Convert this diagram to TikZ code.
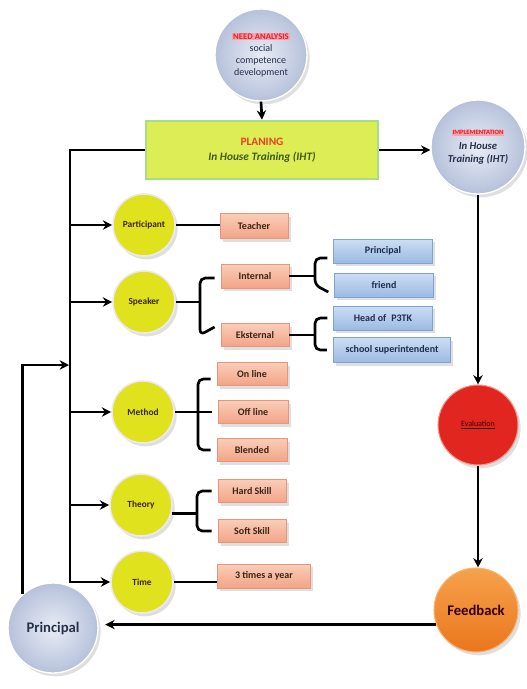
\documentclass[tikz,border=0pt]{standalone}
\usepackage{fontspec}
\setmainfont{Carlito}
\usetikzlibrary{arrows.meta,shadows,calc}
\definecolor{ycol}{HTML}{E0E21E}
\definecolor{ringc}{HTML}{ECE8F4}
\definecolor{gin}{HTML}{E8ECF6}
\definecolor{gout}{HTML}{B6C1DA}
\definecolor{sTop}{HTML}{FACDB8}
\definecolor{sBot}{HTML}{F2A487}
\definecolor{sEdge}{HTML}{E8957A}
\definecolor{sTxt}{HTML}{3B2418}
\definecolor{bTop}{HTML}{CCDEF3}
\definecolor{bBot}{HTML}{9BBAE2}
\definecolor{bEdge}{HTML}{7FA4D3}
\definecolor{bTxt}{HTML}{1F2D4D}
\definecolor{planFill}{HTML}{DCED55}
\definecolor{planEdge}{HTML}{A8DC86}
\definecolor{planRed}{HTML}{E8412A}
\definecolor{planGreen}{HTML}{3D5A1A}
\definecolor{evalFill}{HTML}{E12620}
\definecolor{evalEdge}{HTML}{F29B8C}
\definecolor{feedTop}{HTML}{F6A24C}
\definecolor{feedBot}{HTML}{EA761C}
\definecolor{hlPink}{HTML}{F7A3AE}
\definecolor{redTxt}{HTML}{E0202A}
\definecolor{navyTxt}{HTML}{26304A}
\begin{document}
\begin{tikzpicture}[x=0.75pt,y=-0.75pt,
  shd/.style={drop shadow={shadow xshift=2pt,shadow yshift=-2.5pt,opacity=0.25}},
  ycirc/.style={circle,minimum size=46.5pt,inner sep=0pt,fill=ycol,draw=ringc,line width=1.2pt,shd,
    font=\bfseries\fontsize{7}{8}\selectfont,text=sTxt},
  gcirc/.style={circle,inner sep=0pt,inner color=gin,outer color=gout,draw=white,line width=1pt,shd,
    text=navyTxt,align=center},
  sbox/.style={rectangle,minimum width=51pt,minimum height=17pt,inner sep=0pt,top color=sTop,bottom color=sBot,
    draw=sEdge,line width=0.6pt,shd,font=\bfseries\fontsize{7.5}{8}\selectfont,text=sTxt},
  bbox/.style={rectangle,minimum width=74pt,minimum height=18pt,inner sep=0pt,top color=bTop,bottom color=bBot,
    draw=bEdge,line width=0.6pt,shd,font=\bfseries\fontsize{7.5}{8}\selectfont,text=bTxt},
  ln/.style={line width=2pt,black},
  arr/.style={ln,-{Stealth[length=7pt,width=7pt]}},
  brc/.style={ln,rounded corners=4pt}]
\useasboundingbox (0,0) rectangle (527,689);
\setlength\fboxsep{0.6pt}

% main circles
\node[gcirc,minimum size=69pt,font=\fontsize{7.5}{9}\selectfont] (need) at (261,55)
  {{\fontsize{6.5}{8}\selectfont\bfseries\colorbox{hlPink}{\textcolor{redTxt}{NEED ANALYSIS}}}\\
   social\\ competence\\ development};
\node[gcirc,minimum size=70.5pt,font=\fontsize{8}{10}\selectfont\bfseries\itshape] (impl) at (478,147)
  {{\fontsize{5}{7}\selectfont\upshape\colorbox{hlPink}{\textcolor{redTxt}{IMPLEMENTATION}}}\\[1pt]
   In House\\ Training (IHT)};
\node[circle,minimum size=60pt,inner sep=0pt,fill=evalFill,draw=evalEdge,line width=0.8pt,shd,
  font=\fontsize{6}{7}\selectfont,text=black!75!red] (eval) at (478,425) {\underline{Evaluation}};
\node[circle,minimum size=63pt,inner sep=0pt,top color=feedTop,bottom color=feedBot,draw=feedTop!80!white,
  line width=0.8pt,shd,font=\bfseries\fontsize{11}{12}\selectfont,text=black!80!red] (feed) at (476,610) {Feedback};
\node[gcirc,minimum size=67.5pt,font=\bfseries\fontsize{11}{12}\selectfont] (prin) at (53,628) {Principal};

% planning box
\node[rectangle,minimum width=174pt,minimum height=44pt,fill=planFill,draw=planEdge,line width=1.5pt,align=center,
  font=\fontsize{8.5}{11}\selectfont\bfseries]
  (plan) at (262,150)
  {\textcolor{planRed}{PLANING}\\
   \textcolor{planGreen}{\itshape In House Training (IHT)}};

% yellow circles
\node[ycirc] (part) at (144,225) {Participant};
\node[ycirc] (speak) at (144,302) {Speaker};
\node[ycirc] (meth) at (143,412) {Method};
\node[ycirc] (theo) at (141,505) {Theory};
\node[ycirc] (time) at (142,582) {Time};

% salmon boxes
\node[sbox,minimum height=18.5pt] (teach) at (254,226) {Teacher};
\node[sbox,minimum height=18pt] (int) at (255,276) {Internal};
\node[sbox] (ekst) at (255,335) {Eksternal};
\node[sbox,minimum width=52.5pt] (online) at (252,374) {On line};
\node[sbox,minimum width=52.5pt] (offline) at (253,412) {Off line};
\node[sbox,minimum width=52.5pt] (blend) at (252,450) {Blended};
\node[sbox] (hard) at (252,491) {Hard Skill};
\node[sbox] (soft) at (252,531) {Soft Skill};
\node[sbox,minimum width=70pt,minimum height=18pt] (three) at (264,576) {3 times a year};

% blue boxes
\node[bbox] (bprin) at (383,251) {Principal};
\node[bbox] (friend) at (384,285) {friend};
\node[bbox] (head) at (383,318) {Head of\enspace P3TK};
\node[bbox,minimum width=88pt,minimum height=19pt] (super) at (392,350) {school superintendent};

% top flow
\draw[arr] (need.south) -- (plan.north);
\draw[arr] (plan.east) -- (plan.east -| impl.west);
\draw[arr] (impl.south) -- (eval.north);
\draw[arr] (eval.south) -- (feed.north -| eval.south);
\draw[arr,shorten >=5pt] (feed.200) -- (feed.200 -| prin.east);

% spine
\coordinate (sp) at (70,0);
\draw[arr] (plan.west) -| (sp |- time.west) -- (time.west);
\foreach \n in {part,speak,meth,theo}{\draw[arr] (sp |- \n.west) -- (\n.west);}
\coordinate (pj) at (69,365);
\draw[arr] (prin.132) |- (pj);

% connectors to boxes
\draw[ln] (part.east) -- (part.east -| teach.west);
\draw[ln] (time.east) -- (time.east -| three.west);

% speaker bracket
\coordinate (sb) at (200,0);
\draw[ln] (speak.east) -- (sb |- speak.east);
\draw[brc] ($(int.west)+(-6,2)$) -| (sb |- ekst.west) -- ($(ekst.west)+(-6,-8)$);
% internal bracket
\coordinate (ib) at (315,0);
\draw[ln] (int.east) -- (ib |- int.east);
\draw[brc] ($(bprin.west)+(-6,7)$) -| (ib |- friend.west) -- ($(friend.west)+(-6,7)$);
% eksternal bracket
\draw[ln] (ekst.east) -- (ib |- ekst.east);
\draw[brc] ($(head.west)+(-6,0)$) -| (ib |- super.west) -- ($(super.west)+(-6,0)$);
% method bracket
\coordinate (mb) at (198,0);
\draw[ln] (meth.east) -- ($(offline.west)+(-6,0)$);
\draw[brc] ($(online.west)+(-6,5)$) -| (mb |- blend.west) -- ($(blend.west)+(-6,0)$);
% theory bracket
\coordinate (tb) at (197,0);
\draw[ln] (theo.-15) -- (tb |- theo.-15);
\draw[brc] ($(hard.west)+(-6,0)$) -| (tb |- soft.west) -- ($(soft.west)+(-6,0)$);
\end{tikzpicture}
\end{document}
